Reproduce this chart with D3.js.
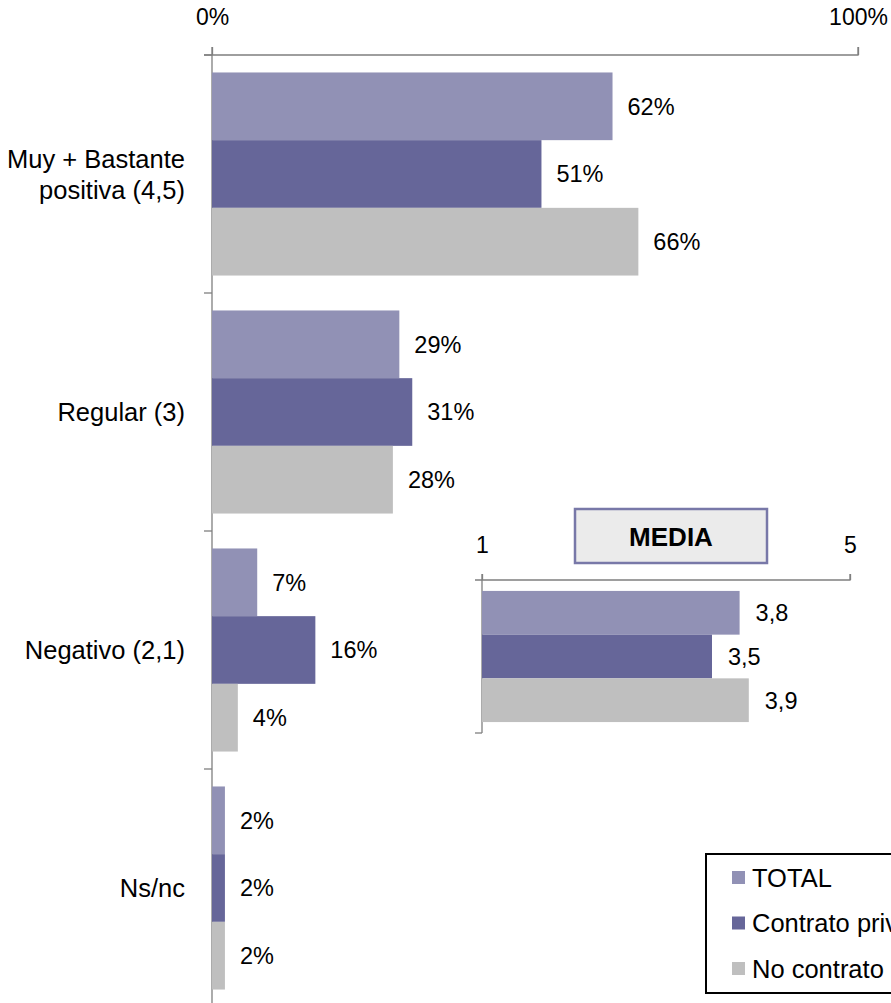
<!DOCTYPE html>
<html lang="es">
<head>
<meta charset="UTF-8">
<title>Valoración</title>
<style>
body { margin: 0; background: #fff; }
svg { display: block; font-family: "Liberation Sans", Arial, sans-serif; }
.axis path, .axis line { stroke: #7f7f7f; stroke-width: 1.3; }
.axis text { font-size: 23px; fill: #000; }
.val { font-size: 23.5px; fill: #000; }
.cat { font-size: 25.5px; fill: #000; }
</style>
</head>
<body>
<svg width="891" height="1003"></svg>
<script src="https://d3js.org/d3.v7.min.js"></script>
<script>

var categories = [["Muy + Bastante", "positiva (4,5)"], ["Regular (3)"], ["Negativo (2,1)"], ["Ns/nc"]];
var seriesNames = ["TOTAL", "Contrato privado", "No contrato privado"];
var seriesColors = ["#9191b5", "#666699", "#bfbfbf"];

var totalValues = [0.62, 0.29, 0.07, 0.02];
var contratoValues = [0.51, 0.31, 0.16, 0.02];
var noContratoValues = [0.66, 0.28, 0.04, 0.02];

var mediaValues = [3.8, 3.5, 3.9];
var mediaLabels = ["3,8", "3,5", "3,9"];

var svg = d3.select("svg");

var seriesValues = [totalValues, contratoValues, noContratoValues];

// main chart
var x = d3.scaleLinear().domain([0, 1]).range([212, 858]);
var y = d3.scaleBand().domain(d3.range(categories.length)).range([55, 1007]);
var ySeries = d3.scaleBand().domain(d3.range(3)).range([0, y.bandwidth()]).paddingOuter(0.258);

svg.append("g")
    .attr("class", "axis")
    .attr("transform", "translate(0,55)")
    .call(d3.axisTop(x).tickValues([0, 1]).tickSize(8).tickPadding(22).tickFormat(d3.format(".0%")))
    .call(function(g) { g.select(".domain").attr("d", "M204,0H858V-8"); });

var leftTicks = d3.range(categories.length + 1).map(function(i) { return 55 + i * y.step(); });
var leftAxis = svg.append("g").attr("class", "axis");
leftAxis.append("line").attr("x1", 212).attr("x2", 212).attr("y1", 47).attr("y2", 1007);
leftAxis.selectAll(".tk").data(leftTicks).enter().append("line")
    .attr("x1", 204).attr("x2", 212)
    .attr("y1", function(d) { return d; }).attr("y2", function(d) { return d; });

var groups = svg.selectAll(".grp")
    .data(categories)
    .enter().append("g")
    .attr("transform", function(d, i) { return "translate(0," + y(i) + ")"; });

groups.each(function(cat, ci) {
    var g = d3.select(this);
    seriesValues.forEach(function(vals, si) {
        g.append("rect")
            .attr("x", x(0))
            .attr("y", ySeries(si))
            .attr("width", x(vals[ci]) - x(0))
            .attr("height", ySeries.bandwidth())
            .attr("fill", seriesColors[si]);
        g.append("text")
            .attr("class", "val")
            .attr("x", x(vals[ci]) + 15)
            .attr("y", ySeries(si) + ySeries.bandwidth() / 2)
            .attr("dy", "0.36em")
            .text(Math.round(vals[ci] * 100) + "%");
    });
    var t = g.append("text")
        .attr("class", "cat")
        .attr("text-anchor", "end")
        .attr("x", 185)
        .attr("y", y.bandwidth() / 2 - (cat.length - 1) * 15.5);
    cat.forEach(function(line, li) {
        t.append("tspan").attr("x", 185).attr("dy", li === 0 ? "0.36em" : 31).text(line);
    });
});

// MEDIA inset
var xm = d3.scaleLinear().domain([1, 5]).range([482, 850]);
var ym = d3.scaleBand().domain(d3.range(mediaValues.length)).range([580, 733]).paddingOuter(0.25);

svg.append("g")
    .attr("class", "axis")
    .attr("transform", "translate(0,580)")
    .call(d3.axisTop(xm).tickValues([1, 5]).tickSize(6).tickPadding(21).tickFormat(d3.format("d")))
    .call(function(g) { g.select(".domain").attr("d", "M475,0H850V-6"); });

var mAxis = svg.append("g").attr("class", "axis");
mAxis.append("line").attr("x1", 482).attr("x2", 482).attr("y1", 574).attr("y2", 733);
mAxis.append("line").attr("x1", 475).attr("x2", 482).attr("y1", 733).attr("y2", 733);

mediaValues.forEach(function(v, i) {
    svg.append("rect")
        .attr("x", xm(1))
        .attr("y", ym(i))
        .attr("width", xm(v) - xm(1))
        .attr("height", ym.bandwidth())
        .attr("fill", seriesColors[i]);
    svg.append("text")
        .attr("class", "val")
        .attr("x", xm(v) + 16)
        .attr("y", ym(i) + ym.bandwidth() / 2)
        .attr("dy", "0.36em")
        .text(mediaLabels[i]);
});

svg.append("rect")
    .attr("x", 575).attr("y", 509).attr("width", 192).attr("height", 54)
    .attr("fill", "#ebebeb").attr("stroke", "#7878a8").attr("stroke-width", 2.5);
svg.append("text")
    .attr("x", 671).attr("y", 546)
    .attr("text-anchor", "middle")
    .attr("font-weight", "bold")
    .attr("font-size", 26)
    .text("MEDIA");

// legend
var legend = svg.append("g").attr("transform", "translate(706,854)");
legend.append("rect")
    .attr("width", 300).attr("height", 139)
    .attr("fill", "#fff").attr("stroke", "#000").attr("stroke-width", 2);
seriesNames.forEach(function(name, i) {
    var row = legend.append("g").attr("transform", "translate(26," + (17 + i * 45.5) + ")");
    row.append("rect").attr("width", 13).attr("height", 13).attr("fill", seriesColors[i]);
    row.append("text")
        .attr("x", 20).attr("y", 6.5).attr("dy", "0.36em")
        .attr("font-size", 25.5)
        .text(name);
});

</script>
</body>
</html>
